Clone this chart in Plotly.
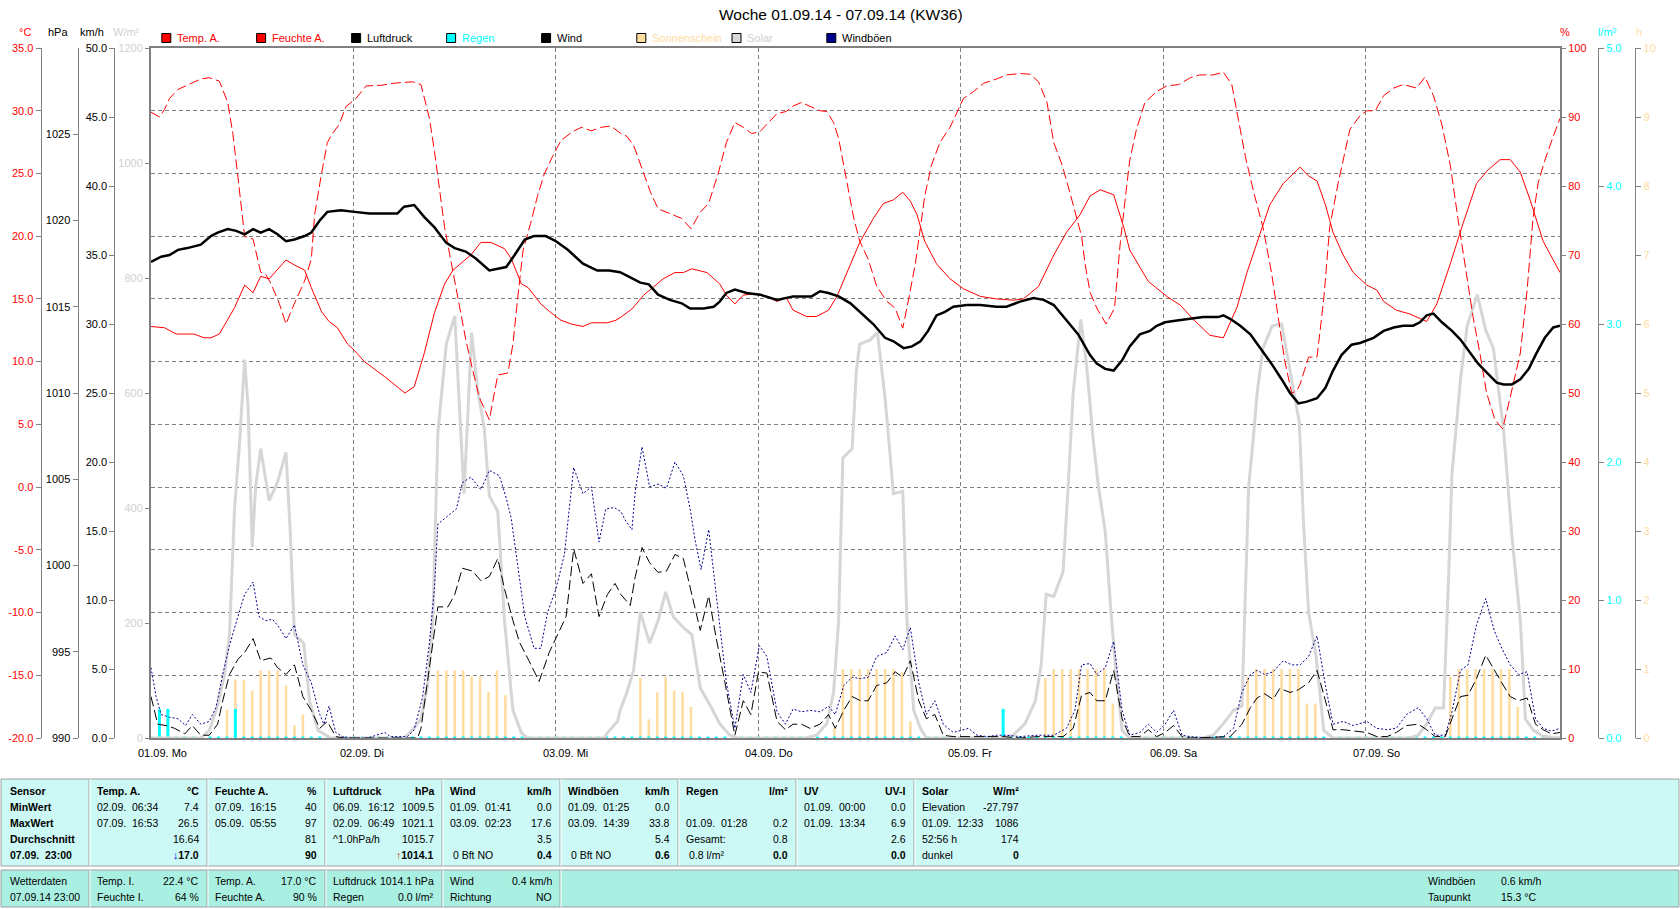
import plotly.graph_objects as go

W, H = 1680, 909
def px(x): return x / W
def py(y): return 1 - y / H

FONT = "Liberation Sans"

# ------------------------------------------------------------------ data
# x values are hours since 01.09.14 00:00
temp_t = [0, 1.6, 3.0, 5.1, 6.3, 7.1, 8.1, 9.9, 11.1, 12.1, 13.0, 14.0, 16.0, 17.0, 18.2, 19.0, 20.2, 21.1, 22.1, 23.3,
          24.1, 25.3, 27.7, 29.2, 30.1, 31.2, 32.4, 33.6, 34.8, 35.8, 36.9, 37.9, 39.1, 40.3, 41.9, 42.7, 43.9, 44.7, 46.2, 47.4,
          48.6, 49.8, 51.2, 52.2, 54.1, 55.1, 55.6, 57.0, 58.4, 59.5, 60.7, 62.1, 63.1, 64.1, 65.9, 67.4, 68.2, 69.2, 70.2, 71.4,
          73.0, 74.2, 75.3, 76.1, 77.7, 78.9, 80.3, 81.3, 82.5, 84.0, 85.6, 86.8, 88.0, 89.1, 90.0, 90.8, 91.7, 93.1, 94.7, 96.3,
          98.3, 100.2, 102.2, 103.4, 105.2, 107.0, 108.5, 110.1, 111.3, 112.5, 114.1, 115.3, 116.0, 118.2, 120.4, 122.0, 123.5, 125.5,
          127.1, 128.7, 129.9, 131.5, 132.6, 134.2, 135.4, 136.2, 137.2, 138.2, 139.2, 140.1, 141.3, 142.5, 144.1, 145.3, 146.1, 147.6,
          149.2, 151.2, 152.4, 154.0, 155.5, 157.1, 158.5, 159.9, 161.1, 162.3, 163.5, 165.0, 167.0]
temp_v = [12.8, 12.7, 12.2, 12.2, 11.9, 11.9, 12.2, 14.3, 16.1, 15.5, 16.8, 16.6, 18.1, 17.7, 17.3, 15.9, 14.0, 13.2, 12.7, 11.4,
          10.9, 10.0, 8.8, 8.0, 7.5, 8.0, 10.7, 13.9, 16.2, 17.3, 17.9, 18.5, 19.5, 19.5, 19.0, 18.2, 16.2, 15.9, 14.6, 13.9,
          13.3, 13.0, 12.8, 13.1, 13.1, 13.3, 13.5, 14.2, 15.3, 15.9, 16.6, 17.1, 17.1, 17.4, 17.1, 16.2, 15.3, 14.6, 15.3, 15.4,
          15.2, 14.8, 15.1, 14.1, 13.6, 13.6, 14.1, 15.2, 17.1, 19.5, 21.4, 22.6, 22.9, 23.5, 22.8, 21.7, 19.6, 17.8, 16.6, 15.8,
          15.2, 15.0, 14.9, 15.0, 16.0, 18.5, 20.3, 21.7, 23.2, 23.7, 23.3, 20.7, 18.9, 16.4, 15.2, 14.5, 13.4, 12.1,
          11.9, 14.3, 17.1, 20.3, 22.5, 24.2, 25.0, 25.5, 24.8, 24.4, 22.5, 20.3, 18.5, 17.1, 16.1, 15.7, 14.8, 14.1,
          13.8, 13.2, 14.6, 17.8, 21.0, 24.2, 25.3, 26.1, 26.1, 25.1, 22.8, 19.6, 17.1]

hum_t = [0, 1.0, 1.6, 2.2, 3.2, 4.7, 5.9, 6.9, 8.1, 9.1, 9.7, 10.2, 10.6, 11.1, 12.1, 13.0, 13.6, 14.2, 15.2, 16.0,
         17.0, 18.2, 19.0, 19.4, 20.2, 20.9, 21.5, 22.3, 23.1, 24.3, 25.5, 27.3, 28.8, 31.0, 32.0, 33.0, 33.6, 34.2, 34.8, 35.4,
         36.0, 36.7, 37.3, 37.9, 38.9, 40.1, 41.1, 42.3, 42.9, 43.5, 44.1, 45.0, 45.8, 46.6, 47.6, 48.6, 50.0, 51.0, 52.2, 53.3,
         54.5, 55.7, 56.4, 57.2, 58.2, 59.2, 60.1, 61.5, 62.9, 64.0, 65.1, 66.1, 67.2, 68.2, 69.2, 70.2, 71.2, 72.2, 73.2, 74.2,
         75.3, 76.1, 77.1, 78.3, 79.3, 80.1, 80.9, 81.5, 82.1, 82.7, 83.3, 84.0, 85.0, 86.0, 87.2, 88.2, 89.1, 89.8, 90.6, 91.2,
         91.7, 92.5, 93.5, 94.7, 96.3, 97.5, 98.7, 100.2, 101.4, 103.0, 104.2, 105.2, 106.2, 107.0, 108.0, 108.9, 109.7, 110.3, 110.7, 111.3,
         112.1, 113.2, 114.2, 114.9, 115.5, 116.0, 116.8, 117.8, 119.2, 120.4, 121.8, 123.2, 124.3, 125.9, 127.1, 128.1, 128.9, 129.7, 130.7, 131.8,
         132.8, 133.6, 134.4, 135.2, 135.8, 136.2, 137.2, 138.2, 139.0, 139.7, 140.7, 142.1, 143.3, 144.1, 145.1, 146.1, 147.3, 148.4, 150.0, 151.0,
         152.0, 153.0, 154.0, 154.9, 155.9, 156.7, 157.5, 158.3, 159.3, 160.2, 161.1, 162.3, 163.1, 163.8, 164.4, 165.2, 166.2, 167.0]
hum_v = [90.7, 90.0, 91.1, 92.7, 94.0, 94.9, 95.5, 95.7, 95.2, 92.1, 87.6, 82.4, 77.8, 72.7, 72.3, 67.5, 67.2, 65.9, 63.0, 60.0,
         63.0, 66.2, 69.4, 75.9, 81.7, 86.3, 87.6, 88.9, 91.5, 92.7, 94.5, 94.6, 94.9, 95.1, 94.7, 89.8, 85.0, 79.1, 74.0, 70.1,
         66.2, 61.7, 57.8, 54.5, 49.4, 46.1, 52.6, 52.9, 57.1, 64.2, 70.7, 74.6, 78.5, 81.7, 84.3, 86.6, 87.9, 88.5, 88.0, 88.5,
         88.7, 87.6, 87.2, 85.9, 82.4, 79.1, 76.7, 76.0, 75.3, 73.8, 76.2, 77.5, 81.7, 86.3, 89.2, 88.5, 87.6, 87.9, 89.2, 90.5,
         90.8, 91.6, 92.1, 91.5, 90.9, 90.8, 89.2, 86.9, 83.0, 79.1, 75.3, 72.0, 69.4, 65.5, 63.3, 62.3, 59.4, 63.6, 68.8, 74.0,
         78.5, 83.0, 86.3, 88.5, 92.7, 93.7, 94.9, 95.5, 96.1, 96.3, 96.2, 95.1, 92.1, 86.3, 83.0, 79.1, 75.3, 72.7, 68.8, 64.6,
         62.3, 60.0, 62.3, 72.0, 78.5, 83.7, 88.2, 92.1, 93.7, 94.5, 94.7, 95.7, 96.1, 96.1, 96.5, 94.7, 89.5, 84.3, 79.1, 74.0,
         67.5, 61.0, 54.5, 50.0, 50.3, 51.3, 55.2, 55.2, 63.6, 74.0, 80.4, 88.2, 90.2, 90.9, 90.9, 93.1, 94.2, 94.7, 94.2, 95.8,
         93.1, 88.9, 83.0, 75.3, 67.5, 61.0, 55.8, 50.0, 46.1, 44.8, 49.4, 55.8, 64.9, 75.3, 80.4, 83.7, 87.2, 89.8]

pres_t = [0, 1.2, 2.2, 3.2, 4.3, 5.9, 7.1, 7.9, 9.1, 10.1, 11.1, 12.1, 13.0, 14.0, 15.0, 16.0, 17.0, 18.2, 19.0, 20.0,
          20.9, 22.5, 24.1, 25.9, 27.7, 29.2, 30.0, 31.2, 32.4, 33.6, 35.0, 36.0, 37.3, 38.5, 40.1, 42.1, 43.1, 44.3, 45.4, 46.8,
          48.0, 49.4, 51.2, 52.9, 54.3, 55.6, 56.8, 58.0, 59.0, 60.1, 61.5, 62.9, 63.9, 65.5, 66.7, 67.4, 68.2, 69.2, 70.6, 72.2,
          74.2, 76.1, 78.3, 79.3, 80.3, 81.5, 82.9, 84.0, 85.6, 87.0, 88.0, 89.2, 90.2, 91.2, 92.1, 93.1, 94.1, 95.1, 96.7, 98.3,
          100.2, 101.4, 103.0, 104.6, 105.8, 107.0, 108.5, 109.9, 111.3, 112.1, 113.1, 114.1, 115.1, 116.0, 117.2, 118.4, 119.2, 120.2,
          121.6, 123.2, 124.7, 126.5, 127.1, 127.9, 129.1, 130.3, 131.5, 132.8, 134.0, 135.0, 136.0, 137.0, 138.2, 139.2, 140.1, 141.1,
          142.3, 143.3, 144.9, 146.1, 147.3, 148.4, 149.6, 150.4, 151.2, 152.0, 153.0, 154.2, 155.2, 156.1, 157.3, 158.5, 159.5, 160.3,
          161.3, 162.3, 163.3, 164.2, 165.2, 166.2, 167.0]
pres_v = [1017.6, 1017.9, 1018.0, 1018.3, 1018.4, 1018.6, 1019.1, 1019.3, 1019.5, 1019.4, 1019.2, 1019.5, 1019.3, 1019.5, 1019.2, 1018.8, 1018.9, 1019.1, 1019.3, 1020.0,
          1020.5, 1020.6, 1020.5, 1020.4, 1020.4, 1020.4, 1020.8, 1020.9, 1020.2, 1019.6, 1018.7, 1018.4, 1018.2, 1017.8, 1017.1, 1017.3, 1018.0, 1018.9, 1019.1, 1019.1,
          1018.8, 1018.3, 1017.5, 1017.1, 1017.1, 1017.0, 1016.7, 1016.4, 1016.3, 1015.7, 1015.4, 1015.2, 1014.9, 1014.9, 1015.0, 1015.3, 1015.8, 1016.0, 1015.8, 1015.7,
          1015.4, 1015.6, 1015.6, 1015.9, 1015.8, 1015.6, 1015.2, 1014.7, 1014.0, 1013.2, 1013.0, 1012.6, 1012.7, 1013.0, 1013.6, 1014.5, 1014.7, 1015.0, 1015.1, 1015.1,
          1015.0, 1015.0, 1015.3, 1015.5, 1015.4, 1015.1, 1014.2, 1013.4, 1012.2, 1011.7, 1011.4, 1011.3, 1011.9, 1012.7, 1013.4, 1013.6, 1013.9, 1014.1,
          1014.2, 1014.3, 1014.4, 1014.4, 1014.5, 1014.3, 1013.9, 1013.4, 1012.6, 1011.7, 1010.8, 1010.0, 1009.4, 1009.5, 1009.7, 1010.3, 1011.3, 1012.2,
          1012.8, 1012.9, 1013.2, 1013.6, 1013.8, 1013.9, 1013.9, 1014.1, 1014.5, 1014.6, 1014.1, 1013.6, 1013.1, 1012.5, 1011.7, 1011.1, 1010.6, 1010.5,
          1010.5, 1010.8, 1011.4, 1012.3, 1013.2, 1013.8, 1013.9]

solar_t = [0, 5.9, 6.9, 7.9, 8.7, 9.3, 9.9, 10.5, 11.1, 11.5, 12.0, 12.4, 13.0, 14.0, 15.0, 16.0, 16.5, 17.0, 18.1, 18.8,
           19.8, 21.3, 30.0, 30.8, 32.0, 32.8, 33.4, 34.0, 35.0, 36.0, 36.5, 37.1, 37.5, 38.0, 38.7, 39.5, 40.1, 41.1, 41.9, 42.9,
           43.9, 44.6, 53.7, 54.1, 55.3, 55.6, 56.4, 57.2, 58.0, 59.1, 60.1, 61.0, 61.9, 63.1, 64.1, 65.1, 66.3, 67.4, 68.6, 69.4,
           77.7, 78.9, 80.1, 80.9, 81.5, 82.0, 83.1, 83.6, 84.0, 85.2, 86.1, 87.0, 88.0, 89.1, 89.6, 90.4, 91.2, 91.9, 101.0, 102.2,
           103.6, 104.8, 105.5, 106.1, 107.0, 108.1, 108.7, 109.3, 110.2, 110.9, 111.3, 111.7, 112.3, 113.1, 113.7, 114.3, 115.1, 116.0, 124.7, 125.9,
           127.1, 128.3, 129.3, 129.6, 130.1, 130.7, 131.1, 131.8, 132.9, 134.0, 135.0, 136.1, 136.6, 137.2, 138.1, 139.0, 140.1, 149.2, 150.2, 151.2,
           152.2, 153.2, 153.8, 154.2, 155.2, 156.0, 157.2, 158.2, 159.1, 160.3, 161.3, 162.3, 162.9, 163.9, 165.0, 167.0]
solar_v = [0, 0, 13, 56, 110, 180, 398, 514, 658, 577, 332, 437, 503, 413, 445, 497, 359, 180, 165, 64,
           13, 0, 0, 11, 33, 95, 204, 530, 685, 734, 592, 425, 546, 705, 608, 538, 421, 394, 204, 48,
           9, 0, 0, 9, 29, 48, 79, 118, 219, 165, 204, 254, 211, 192, 180, 87, 56, 25, 5, 0,
           0, 5, 25, 79, 204, 487, 503, 639, 685, 692, 705, 592, 425, 429, 204, 48, 17, 0, 0, 5,
           25, 64, 126, 250, 246, 289, 437, 600, 728, 647, 581, 514, 437, 359, 235, 126, 13, 0, 0, 5,
           25, 48, 56, 204, 437, 530, 600, 678, 717, 720, 639, 549, 375, 219, 141, 13, 0, 0, 5, 25,
           52, 52, 281, 460, 623, 717, 771, 709, 678, 538, 351, 204, 33, 13, 3, 0]

wind_t = [0, 0.8, 1.8, 2.8, 4.0, 4.9, 5.9, 6.9, 7.9, 8.5, 9.3, 10.3, 11.1, 12.1, 13.0, 14.2, 15.0, 16.0, 17.0, 18.0,
          19.0, 20.0, 20.9, 21.9, 22.9, 31.6, 32.0, 33.0, 34.0, 35.2, 36.0, 36.9, 38.1, 39.1, 40.1, 41.1, 41.9, 42.9, 43.7, 44.8,
          46.0, 47.2, 48.0, 49.2, 50.1, 51.2, 52.2, 53.1, 54.1, 55.0, 55.7, 56.8, 57.4, 58.2, 59.1, 60.1, 61.1, 62.1, 63.1, 63.9,
          65.1, 66.1, 67.0, 68.0, 69.2, 70.2, 71.1, 72.0, 73.0, 74.2, 75.2, 76.1, 77.1, 78.1, 79.3, 80.3, 81.1, 82.1, 83.1, 84.1,
          85.0, 86.0, 87.2, 88.2, 89.1, 90.0, 91.0, 91.9, 92.9, 93.9, 95.1, 97.1, 99.1, 101.0, 103.0, 105.0, 107.0, 108.1, 109.3, 110.3,
          111.3, 112.1, 113.1, 114.1, 115.1, 116.0, 117.2, 118.2, 119.2, 120.2, 121.2, 122.2, 123.2, 127.9, 129.3, 130.3, 131.1, 132.0, 133.0, 133.8,
          135.0, 136.0, 137.2, 138.2, 139.2, 140.1, 141.3, 142.5, 144.1, 145.3, 146.5, 147.6, 148.8, 150.2, 151.2, 152.2, 153.4, 154.2, 155.2, 156.1,
          157.1, 158.2, 159.2, 160.1, 161.1, 162.1, 163.1, 164.1, 165.0, 166.0, 167.0]
wind_v = [3.0, 1.0, 0.9, 0.7, 0.3, 0.9, 0.2, 0.2, 1.0, 2.7, 4.6, 5.7, 6.2, 7.2, 5.6, 5.8, 5.1, 4.6, 5.3, 3.0,
          2.0, 0.7, 1.2, 0.1, 0.0, 0.0, 0.7, 5.3, 9.5, 9.5, 10.4, 12.3, 12.1, 11.4, 11.7, 13.0, 10.8, 8.5, 6.9, 5.6,
          4.1, 6.2, 7.2, 8.8, 13.7, 11.2, 11.9, 8.8, 10.4, 11.2, 10.4, 9.6, 11.7, 13.8, 12.7, 12.0, 12.1, 13.3, 13.0, 10.9,
          7.8, 10.3, 7.2, 4.1, 0.2, 2.7, 1.7, 4.8, 4.7, 1.2, 0.6, 1.0, 1.0, 0.7, 1.0, 1.7, 0.7, 2.0, 3.0, 2.7,
          2.7, 3.8, 4.0, 4.8, 4.4, 5.6, 2.7, 1.4, 1.7, 0.2, 0.1, 0.1, 0.1, 0.1, 0.0, 0.1, 0.1, 0.1, 0.7, 3.1,
          3.3, 2.7, 2.7, 4.9, 1.4, 0.1, 0.1, 0.6, 0.1, 0.4, 0.9, 0.1, 0.0, 0.1, 1.0, 2.2, 2.9, 3.2, 2.8, 3.6,
          3.3, 3.5, 4.0, 4.9, 2.7, 0.6, 0.6, 0.5, 0.4, 0.1, 0.1, 0.4, 0.9, 1.0, 0.6, 0.1, 0.1, 1.4, 3.0, 3.1,
          4.3, 6.0, 4.9, 4.0, 3.0, 2.7, 2.9, 1.0, 0.6, 0.3, 0.4]

gust_t = [0, 0.6, 1.2, 2.2, 3.2, 4.1, 4.9, 5.9, 6.9, 7.7, 8.5, 9.3, 10.3, 11.1, 12.1, 12.8, 13.6, 14.4, 15.2, 16.0,
          17.0, 18.0, 19.0, 20.0, 20.5, 21.1, 21.9, 22.7, 23.7, 25.7, 27.7, 28.4, 30.4, 31.2, 32.2, 33.0, 33.6, 34.0, 35.0, 36.2,
          36.9, 37.9, 39.1, 40.1, 41.3, 42.1, 42.7, 43.3, 44.3, 45.4, 46.2, 47.0, 48.0, 49.0, 50.1, 51.2, 52.2, 53.1, 53.9, 54.9,
          55.7, 56.2, 57.0, 57.4, 58.2, 59.1, 60.1, 61.1, 62.1, 63.1, 63.9, 64.5, 65.2, 66.1, 66.9, 67.4, 68.2, 69.2, 70.2, 71.1,
          72.1, 73.0, 74.2, 75.2, 76.1, 77.1, 78.1, 79.3, 80.3, 81.1, 82.1, 83.1, 84.1, 85.0, 86.0, 87.2, 88.2, 89.1, 90.0, 91.0,
          91.9, 92.9, 93.9, 95.1, 96.9, 97.9, 99.1, 100.2, 101.4, 103.0, 105.0, 107.0, 108.5, 109.5, 110.3, 111.3, 112.1, 113.1, 114.1, 115.1,
          116.0, 117.2, 118.2, 119.2, 120.2, 121.2, 122.2, 123.2, 125.1, 127.1, 128.3, 129.3, 130.3, 131.1, 132.0, 133.0, 134.2, 135.2, 136.2, 137.2,
          138.2, 139.2, 140.1, 141.3, 142.5, 144.1, 145.3, 146.5, 147.6, 148.8, 150.2, 151.2, 152.2, 153.4, 154.2, 155.2, 156.1, 157.1, 158.2, 159.2,
          160.1, 161.1, 162.1, 163.1, 164.1, 165.0, 166.0, 167.0]
gust_v = [5.1, 3.0, 1.7, 1.5, 1.4, 0.9, 1.7, 1.0, 1.2, 2.2, 4.6, 6.7, 8.8, 10.4, 11.3, 8.8, 8.5, 8.6, 8.0, 7.2,
          8.2, 5.3, 4.0, 1.7, 1.0, 2.3, 0.4, 0.1, 0.0, 0.0, 0.4, 0.1, 0.1, 0.6, 3.0, 6.9, 10.9, 15.5, 16.0, 16.6,
          18.5, 18.9, 18.0, 19.4, 19.0, 17.4, 15.9, 13.3, 8.8, 6.5, 6.5, 9.1, 10.8, 13.3, 19.6, 17.7, 18.2, 14.2, 16.6, 16.7,
          16.4, 15.8, 15.1, 17.9, 21.1, 18.2, 18.4, 18.1, 20.0, 19.0, 16.6, 14.3, 12.2, 15.1, 10.8, 8.2, 4.0, 0.7, 4.6, 3.3,
          6.7, 5.9, 1.9, 1.0, 2.1, 1.9, 2.0, 1.9, 2.3, 1.7, 3.8, 4.4, 4.3, 4.4, 5.9, 6.2, 7.4, 6.4, 8.0, 4.0,
          1.7, 2.7, 1.0, 0.4, 0.7, 0.2, 0.1, 0.2, 0.2, 0.1, 0.2, 0.2, 0.7, 2.0, 5.3, 5.4, 4.6, 5.1, 7.0, 2.0,
          0.2, 0.4, 1.0, 0.4, 1.0, 2.0, 0.2, 0.1, 0.0, 0.1, 0.7, 3.3, 4.6, 4.9, 4.6, 4.8, 5.6, 5.3, 5.3, 5.9,
          7.4, 3.8, 1.0, 1.2, 0.9, 1.2, 0.7, 0.6, 0.7, 1.7, 2.2, 1.4, 0.2, 0.2, 1.9, 4.9, 5.3, 8.2, 10.1, 7.8,
          6.5, 5.3, 4.6, 4.8, 1.4, 0.7, 0.5, 0.7]

sun_t = [9, 10, 11, 12, 13, 14, 15, 16, 17, 18,
         34, 35, 36, 37, 38, 39, 40, 41, 42,
         58, 59, 60, 61, 62, 63, 64,
         81, 82, 83, 84, 85, 86, 87, 88, 89, 90,
         106, 107, 108, 109, 110, 111, 112, 113, 114,
         130, 131, 132, 133, 134, 135, 136, 137, 138,
         154, 155, 156, 157, 158, 159, 160, 161, 162]
sun_v = [0.41, 0.85, 0.84, 0.69, 0.98, 0.98, 0.98, 0.76, 0.19, 0.34,
         0.98, 0.98, 0.98, 0.98, 0.89, 0.89, 0.67, 0.98, 0.62,
         0.87, 0.27, 0.66, 0.89, 0.69, 0.67, 0.45,
         0.14, 1.0, 1.0, 1.0, 1.0, 1.0, 1.0, 1.0, 0.95, 0.24,
         0.87, 1.0, 1.0, 1.0, 1.0, 1.0, 1.0, 1.0, 0.5,
         0.89, 1.0, 1.0, 1.0, 1.0, 1.0, 1.0, 0.5, 0.5,
         0.89, 1.0, 1.0, 1.0, 1.0, 1.0, 1.0, 1.0, 0.45]

rain_t = list(range(0, 168))
rain_v = [0.0] * 168
rain_v[1] = 0.2
rain_v[2] = 0.2
rain_v[10] = 0.2
rain_v[101] = 0.2

day_hours = [0, 24, 48, 72, 96, 120, 144]
day_labels = ["01.09.  Mo", "02.09.  Di", "03.09.  Mi", "04.09.  Do", "05.09.  Fr", "06.09.  Sa", "07.09.  So"]

temp_ticks = [-20, -15, -10, -5, 0, 5, 10, 15, 20, 25, 30, 35]
hpa_ticks = [990, 995, 1000, 1005, 1010, 1015, 1020, 1025]
kmh_ticks = [0, 5, 10, 15, 20, 25, 30, 35, 40, 45, 50]
wm2_ticks = [0, 200, 400, 600, 800, 1000, 1200]
pct_ticks = [0, 10, 20, 30, 40, 50, 60, 70, 80, 90, 100]
lm2_ticks = [0, 1, 2, 3, 4, 5]
h_ticks = [0, 1, 2, 3, 4, 5, 6, 7, 8, 9, 10]

# ------------------------------------------------------------------ colours
RED = "#FF0000"
CYAN = "#00FFFF"
SUN = "#FFDCA0"
SOLAR = "#D6D6D6"
NAVY = "#000090"
GREY = "#808080"

fig = go.Figure()

# base subplot (grid + frame) needs a trace to exist
fig.add_trace(go.Scatter(x=[0], y=[0], mode="lines", line=dict(width=0), hoverinfo="skip",
                         xaxis="x", yaxis="y", name="base"))
# draw order bottom -> top follows axis numbering
fig.add_trace(go.Bar(x=sun_t, y=sun_v, width=0.3, marker=dict(color=SUN, line=dict(width=0)),
                     yaxis="y2", name="Sonnenschein"))
fig.add_trace(go.Bar(x=rain_t, y=rain_v, width=0.35, marker=dict(color=CYAN, line=dict(width=0)),
                     yaxis="y3", name="Regen"))
fig.add_trace(go.Scatter(x=rain_t, y=rain_v, mode="markers", yaxis="y3",
                         marker=dict(symbol="square", size=3, color=CYAN), name="Regen0"))
fig.add_trace(go.Scatter(x=solar_t, y=solar_v, mode="lines", yaxis="y4",
                         line=dict(color=SOLAR, width=3), name="Solar"))
fig.add_trace(go.Scatter(x=gust_t, y=gust_v, mode="lines", yaxis="y5",
                         line=dict(color=NAVY, width=1, dash="2px,2px"), name="Windböen"))
fig.add_trace(go.Scatter(x=wind_t, y=wind_v, mode="lines", yaxis="y5",
                         line=dict(color="black", width=1, dash="10px,4px"), name="Wind"))
fig.add_trace(go.Scatter(x=temp_t, y=temp_v, mode="lines", yaxis="y6",
                         line=dict(color=RED, width=1), name="Temp. A."))
fig.add_trace(go.Scatter(x=hum_t, y=hum_v, mode="lines", yaxis="y7",
                         line=dict(color=RED, width=1, dash="10px,4px"), name="Feuchte A."))
fig.add_trace(go.Scatter(x=pres_t, y=pres_v, mode="lines", yaxis="y8",
                         line=dict(color="black", width=2.5), name="Luftdruck"))

XD = [px(151), px(1560)]
YD = [py(738), py(48)]
tf = dict(family=FONT, size=11)

def free_axis(rng, ticks, texts, color, pos, side):
    return dict(range=rng, tickvals=ticks, ticktext=texts, tickfont=dict(tf, color=color),
                anchor="free", position=pos, side=side, overlaying="y", showgrid=False, zeroline=False,
                showline=True, linecolor=GREY, linewidth=1, ticks="outside", ticklen=5, tickcolor=GREY,
                fixedrange=True, automargin=False)

fig.update_layout(
    width=W, height=H, autosize=False,
    margin=dict(l=0, r=0, t=0, b=0, pad=0, autoexpand=False),
    paper_bgcolor="white", plot_bgcolor="white",
    showlegend=False, barmode="overlay",
    font=dict(family=FONT, size=11, color="black"),
    xaxis=dict(domain=XD, range=[0, 167], tickvals=day_hours[1:], showticklabels=False, ticks="",
               showgrid=True, gridcolor=GREY, griddash="4px,3px", gridwidth=1, zeroline=False,
               showline=True, mirror=True, linecolor=GREY, linewidth=2, automargin=False),
    yaxis=dict(domain=YD, range=[0, 11], tickvals=list(range(1, 11)), showticklabels=False, ticks="",
               showgrid=True, gridcolor=GREY, griddash="4px,3px", gridwidth=1, zeroline=False,
               showline=True, mirror=True, linecolor=GREY, linewidth=2, automargin=False),
    yaxis2=free_axis([0, 10], h_ticks, [str(v) for v in h_ticks], SUN, 1635.4 / W, "right"),
    yaxis3=free_axis([0, 5], lm2_ticks, [f"{v:.1f}" for v in lm2_ticks], CYAN, 1598 / W, "right"),
    yaxis4=dict(range=[0, 1200], tickvals=wm2_ticks, ticktext=[str(v) for v in wm2_ticks],
                tickfont=dict(tf, color="#D0D0D0"), anchor="x", side="left", overlaying="y",
                showgrid=False, zeroline=False, showline=False, ticks="outside", ticklen=5, tickcolor=GREY,
                automargin=False),
    yaxis5=free_axis([0, 50], kmh_ticks, [f"{v:.1f}" for v in kmh_ticks], "black", 114.3 / W, "left"),
    yaxis6=free_axis([-20, 35], temp_ticks, [f"{v:.1f}" for v in temp_ticks], RED, 40.5 / W, "left"),
    yaxis7=dict(range=[0, 100], tickvals=pct_ticks, ticktext=[str(v) for v in pct_ticks],
                tickfont=dict(tf, color=RED), anchor="x", side="right", overlaying="y",
                showgrid=False, zeroline=False, showline=False, ticks="outside", ticklen=5, tickcolor=GREY,
                automargin=False),
    yaxis8=free_axis([990, 1030], hpa_ticks, [str(v) for v in hpa_ticks], "black", 77.5 / W, "left"),
)

ann = []
shapes = []

def txt(x, y, s, anchor="left", color="black", size=11):
    ann.append(dict(x=px(x), y=py(y), xref="paper", yref="paper", text=s,
                    showarrow=False, xanchor=anchor, yanchor="middle",
                    font=dict(family=FONT, size=size, color=color)))

# title
txt(841, 15, "Woche 01.09.14 - 07.09.14 (KW36)", anchor="center", size=15.5)

# axis unit titles
for x, s, c in [(25, "°C", RED), (58, "hPa", "black"), (92, "km/h", "black"), (127, "W/m²", "#D0D0D0"),
                (1565, "%", RED), (1607, "l/m²", CYAN), (1639, "h", SUN)]:
    txt(x, 32, s, anchor="center", color=c)

# legend
legend_items = [("Temp. A.", RED, RED), ("Feuchte A.", RED, RED), ("Luftdruck", "black", "black"),
                ("Regen", CYAN, CYAN), ("Wind", "black", "black"), ("Sonnenschein", SUN, SUN),
                ("Solar", "#D8D8D8", "#D0D0D0"), ("Windböen", NAVY, "black")]
legend_x = [161.8, 256.6, 351.6, 446.6, 541.6, 636.8, 732, 826.8]
for (name, fill, tcol), lx in zip(legend_items, legend_x):
    shapes.append(dict(type="rect", xref="paper", yref="paper", x0=px(lx), x1=px(lx + 9),
                       y0=py(42.5), y1=py(33.5), fillcolor=fill, line=dict(color="black", width=1)))
    txt(lx + 13, 38, name, color=tcol)

# day labels
for hh, lab in zip(day_hours, day_labels):
    ann.append(dict(x=hh, y=py(753), xref="x", yref="paper", text=lab.replace("  ", "\u00a0"),
                    showarrow=False, xanchor="left", yanchor="middle", xshift=-15,
                    font=dict(family=FONT, size=11, color="black")))

# ------------------------------------------------------------------ table
UP_BG = "#CCF9F5"
LO_BG = "#AAF0E2"
SEP = "#A0A0A0"
TS = 10.5
shapes.append(dict(type="rect", xref="paper", yref="paper", x0=px(1), x1=px(1679), y0=py(866), y1=py(779),
                   fillcolor=UP_BG, line=dict(color=SEP, width=1), layer="below"))
shapes.append(dict(type="rect", xref="paper", yref="paper", x0=px(1), x1=px(1679), y0=py(907), y1=py(870),
                   fillcolor=LO_BG, line=dict(color=SEP, width=1), layer="below"))
col_edges = [0, 89, 207, 325, 442, 560, 678, 796, 914]
for e in col_edges[1:]:
    shapes.append(dict(type="line", xref="paper", yref="paper", x0=px(e), x1=px(e), y0=py(866), y1=py(779),
                       line=dict(color=SEP, width=1)))
    shapes.append(dict(type="line", xref="paper", yref="paper", x0=px(e + 1), x1=px(e + 1), y0=py(866), y1=py(779),
                       line=dict(color="white", width=1)))
for e in col_edges[1:6]:
    shapes.append(dict(type="line", xref="paper", yref="paper", x0=px(e), x1=px(e), y0=py(907), y1=py(870),
                       line=dict(color=SEP, width=1)))
    shapes.append(dict(type="line", xref="paper", yref="paper", x0=px(e + 1), x1=px(e + 1), y0=py(907), y1=py(870),
                       line=dict(color="white", width=1)))

def sp(s):
    return s.replace("  ", "\u00a0 ")

rows_y = [791, 807, 823, 839, 855]
col1 = ["Sensor", "MinWert", "MaxWert", "Durchschnitt", "07.09.  23:00"]
for s, y in zip(col1, rows_y):
    txt(8, y, "<b>" + sp(s) + "</b>", size=TS)

stat_cols = [
    (["<b>Temp. A.</b>", "02.09.  06:34", "07.09.  16:53", "", ""],
     ["<b>°C</b>", "7.4", "26.5", "16.64", "<b><span style='color:#0000FF'>↓</span>17.0</b>"]),
    (["<b>Feuchte A.</b>", "07.09.  16:15", "05.09.  05:55", "", ""],
     ["<b>%</b>", "40", "97", "81", "<b>90</b>"]),
    (["<b>Luftdruck</b>", "06.09.  16:12", "02.09.  06:49", "^1.0hPa/h", ""],
     ["<b>hPa</b>", "1009.5", "1021.1", "1015.7", "<b><span style='color:#C04000'>↑</span>1014.1</b>"]),
    (["<b>Wind</b>", "01.09.  01:41", "03.09.  02:23", "", " 0 Bft NO"],
     ["<b>km/h</b>", "0.0", "17.6", "3.5", "<b>0.4</b>"]),
    (["<b>Windböen</b>", "01.09.  01:25", "03.09.  14:39", "", " 0 Bft NO"],
     ["<b>km/h</b>", "0.0", "33.8", "5.4", "<b>0.6</b>"]),
    (["<b>Regen</b>", "", "01.09.  01:28", "Gesamt:", " 0.8 l/m²"],
     ["<b>l/m²</b>", "", "0.2", "0.8", "<b>0.0</b>"]),
    (["<b>UV</b>", "01.09.  00:00", "01.09.  13:34", "", ""],
     ["<b>UV-I</b>", "0.0", "6.9", "2.6", "<b>0.0</b>"]),
    (["<b>Solar</b>", "Elevation", "01.09.  12:33", "52:56 h", "dunkel"],
     ["<b>W/m²</b>", "-27.797", "1086", "174", "<b>0</b>"]),
]
right_edges = col_edges[2:] + [1027]
for i, (lefts, rights) in enumerate(stat_cols):
    xl = col_edges[i + 1] + 6
    xr = right_edges[i] - 6
    for s, y in zip(lefts, rows_y):
        if s:
            txt(xl, y, sp(s), size=TS)
    for s, y in zip(rights, rows_y):
        if s:
            txt(xr, y, s, anchor="right", size=TS)

low_y = [881, 897]
txt(8, low_y[0], "Wetterdaten", size=TS)
txt(8, low_y[1], "07.09.14 23:00", size=TS)
low_cols = [(["Temp. I.", "Feuchte I."], ["22.4 °C", "64 %"]),
            (["Temp. A.", "Feuchte A."], ["17.0 °C", "90 %"]),
            (["Luftdruck", "Regen"], ["1014.1 hPa", "0.0 l/m²"]),
            (["Wind", "Richtung"], ["0.4 km/h", "NO"])]
for i, (lefts, rights) in enumerate(low_cols):
    xl = col_edges[i + 1] + 6
    xr = col_edges[i + 2] - 6
    for s, y in zip(lefts, low_y):
        txt(xl, y, s, size=TS)
    for s, y in zip(rights, low_y):
        txt(xr, y, s, anchor="right", size=TS)
txt(1426, low_y[0], "Windböen", size=TS)
txt(1426, low_y[1], "Taupunkt", size=TS)
txt(1499, low_y[0], "0.6 km/h", size=TS)
txt(1499, low_y[1], "15.3 °C", size=TS)

fig.update_layout(annotations=ann, shapes=shapes)

fig.write_html("out.html", config={"displayModeBar": False})

# remove the default page margin so the figure sits at the window origin
with open("out.html", "r", encoding="utf-8") as f:
    page = f.read()
page = page.replace("<head>", "<head><style>html,body{margin:0;padding:0;overflow:hidden;}</style>", 1)
with open("out.html", "w", encoding="utf-8") as f:
    f.write(page)
